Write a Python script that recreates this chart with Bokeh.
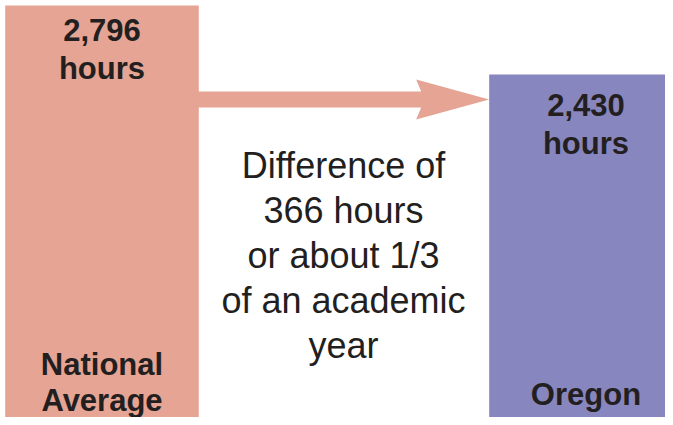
from bokeh.plotting import figure
from bokeh.models import Range1d
from bokeh.core.properties import value
from bokeh.embed import file_html
from bokeh.resources import INLINE

# ---- data ----
categories = ["National Average", "Oregon"]
category_lines = [["National", "Average"], ["Oregon"]]
hours = [2796, 2430]
hour_labels = ["2,796", "2,430"]
unit_label = "hours"
note_lines = ["Difference of", "366 hours", "or about 1/3", "of an academic", "year"]
colors = ["#E5A494", "#8786BF"]

# ---- layout ----
W, H = 665, 417
X0, X1 = -0.2097, 1.1643
Y0, Y1 = 610.6, 2822.5
BAR_W = 0.4
TEXT = "#231F20"
FONT = value("Liberation Sans")
TXT_SHIFT = 12  # renderer places alphabetic baseline lower; compensate


def sx(px):
    return X0 + px * (X1 - X0) / W


def sy(py):
    return Y1 - (py - TXT_SHIFT) * (Y1 - Y0) / H


def syb(py):
    return Y1 - py * (Y1 - Y0) / H


def dx(n):
    return n * (X1 - X0) / W


def dy(n):
    return n * (Y1 - Y0) / H


p = figure(width=W, height=H, output_backend="svg", toolbar_location=None,
           x_range=Range1d(X0, X1), y_range=Range1d(Y0, Y1), min_border=0)
p.axis.visible = False
p.grid.visible = False
p.outline_line_color = None
p.background_fill_color = "white"

idx = list(range(len(categories)))
p.vbar(x=idx, top=hours, bottom=0, width=BAR_W, fill_color=colors, line_color=None)

# arrow from left bar to right bar
tail = idx[0] + BAR_W / 2 - 0.01
tip = idx[1] - BAR_W / 2
ay = syb(99)
ax = [tail, tip - dx(68), tip - dx(73), tip, tip - dx(73), tip - dx(68), tail]
ayy = [ay + dy(8), ay + dy(8), ay + dy(20), ay, ay - dy(20), ay - dy(8), ay - dy(8)]
p.patch(ax, ayy, fill_color=colors[0], line_color=None)

# value labels
p.text(x=idx, y=hours, text=hour_labels, y_offset=[37 - TXT_SHIFT, 43 - TXT_SHIFT],
       text_font=FONT, text_font_style="bold", text_font_size="31px",
       text_align="center", text_baseline="alphabetic", text_color=TEXT)
p.text(x=idx, y=hours, text=[unit_label] * len(idx),
       y_offset=[75 - TXT_SHIFT, 81 - TXT_SHIFT],
       text_font=FONT, text_font_style="bold", text_font_size="31px",
       text_align="center", text_baseline="alphabetic", text_color=TEXT)

# category labels
bottom_baselines = [[376, 412], [406]]
cx, cy, ct = [], [], []
for i, lines in enumerate(category_lines):
    for j, t in enumerate(lines):
        cx.append(idx[i])
        cy.append(sy(bottom_baselines[i][j]))
        ct.append(t)
p.text(x=cx, y=cy, text=ct, text_font=FONT, text_font_style="bold",
       text_font_size="31px", text_align="center", text_baseline="alphabetic",
       text_color=TEXT)

# center note
p.text(x=[sx(343)] * len(note_lines), y=[sy(177 + 45 * i) for i in range(len(note_lines))],
       text=note_lines, text_font=FONT, text_font_size="36px",
       text_align="center", text_baseline="alphabetic", text_color=TEXT)

open("out.html", "w").write(file_html(p, INLINE))
